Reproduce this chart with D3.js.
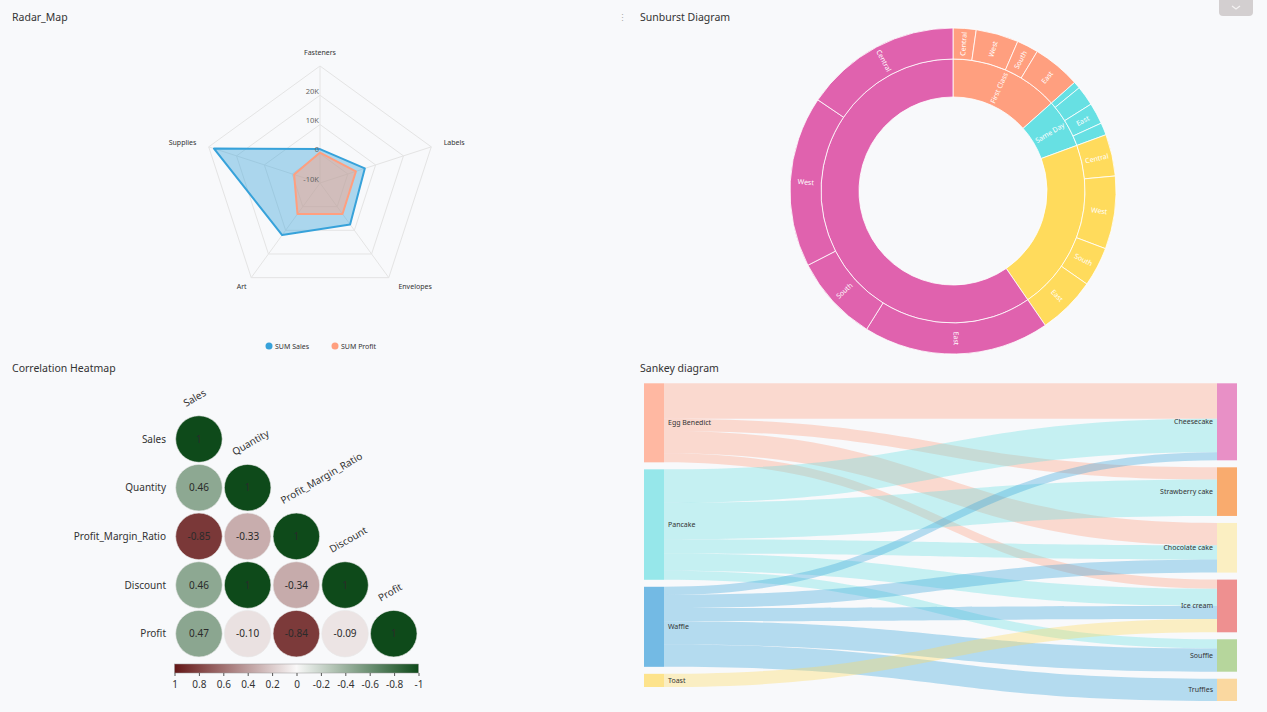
<!DOCTYPE html>
<html><head><meta charset="utf-8">
<script src="https://cdn.jsdelivr.net/npm/d3@7"></script>
<style>
html,body{margin:0;padding:0;background:#f8f9fb;}
svg{display:block;font-family:"Noto Sans","Open Sans",sans-serif;}
</style></head><body>
<svg id="c" width="1267" height="712"></svg>
<script>
// ================= DATA =================
const panelTitles = ["Radar_Map", "Sunburst Diagram", "Correlation Heatmap", "Sankey diagram"];

// Radar
const radarIndicators = ["Fasteners", "Labels", "Envelopes", "Art", "Supplies"];
const radarSales  = [1600, 6100, 7500, 12000, 28100];
const radarProfit = [400, 2900, 3100, 3100, -700];
const radarTicks  = [-10000, 0, 10000, 20000, 30000];
const radarSeriesNames = ["SUM Sales", "SUM Profit"];

// Sunburst (Ship Mode -> Region)
const sunModes = ["First Class", "Same Day", "Second Class", "Standard Class"];
const sunRegions = [
  ["Central", "West", "South", "East"],
  ["Central", "West", "East", "South"],
  ["Central", "West", "South", "East"],
  ["East", "South", "West", "Central"]
];
const sunValues = [
  [228, 422, 214, 475],
  [69, 197, 211, 122],
  [414, 722, 391, 575],
  [1846, 858, 1696, 1555]
];

// Correlation heatmap (lower triangle)
const corrVars = ["Sales", "Quantity", "Profit_Margin_Ratio", "Discount", "Profit"];
const corrValues = [
  [1],
  [0.46, 1],
  [-0.85, -0.33, 1],
  [0.46, 1, -0.34, 1],
  [0.47, -0.10, -0.84, -0.09, 1]
];
const corrLegendTicks = [1, 0.8, 0.6, 0.4, 0.2, 0, -0.2, -0.4, -0.6, -0.8, -1];

// Sankey
const sankeySources = ["Egg Benedict", "Pancake", "Waffle", "Toast"];
const sankeyTargets = ["Cheesecake", "Strawberry cake", "Chocolate cake", "Ice cream", "Souffle", "Truffles"];
const sankeyLinks = [
  ["Egg Benedict", "Cheesecake", 35],
  ["Egg Benedict", "Strawberry cake", 12],
  ["Egg Benedict", "Chocolate cake", 22],
  ["Egg Benedict", "Ice cream", 9],
  ["Pancake", "Cheesecake", 33],
  ["Pancake", "Strawberry cake", 36],
  ["Pancake", "Chocolate cake", 14],
  ["Pancake", "Ice cream", 17],
  ["Pancake", "Souffle", 9],
  ["Waffle", "Cheesecake", 8],
  ["Waffle", "Chocolate cake", 13],
  ["Waffle", "Ice cream", 13],
  ["Waffle", "Souffle", 23],
  ["Waffle", "Truffles", 22],
  ["Toast", "Ice cream", 13]
];

// ================= DRAW =================
const loc = d3.formatLocale({ decimal: ".", thousands: ",", grouping: [3], currency: ["$", ""], minus: "-" });
const svg = d3.select("#c");
svg.append("rect").attr("width", 1267).attr("height", 712).attr("fill", "#f8f9fb");

// titles
const titlePos = [[12, 21], [640, 21], [12, 372], [640, 372]];
panelTitles.forEach((t, i) => {
  svg.append("text").attr("x", titlePos[i][0]).attr("y", titlePos[i][1])
    .attr("font-size", 10.5).attr("fill", "#333").text(t);
});
svg.append("text").attr("x", 622).attr("y", 21).attr("font-size", 9).attr("fill", "#aaa")
  .attr("text-anchor", "middle").text("⋮");
// top-right button
svg.append("rect").attr("x", 1219).attr("y", -6).attr("width", 34).attr("height", 22).attr("rx", 4)
  .attr("fill", "#d3cfd0");
svg.append("path").attr("d", "M1232,6 L1236,9 L1240,6").attr("fill", "none")
  .attr("stroke", "#f4f2f2").attr("stroke-width", 1.2);

// ---------- Radar ----------
(function () {
  const cx = 320, cy = 183, R = 117;
  const r = d3.scaleLinear().domain([radarTicks[0], radarTicks[radarTicks.length - 1]]).range([0, R]);
  const n = radarIndicators.length;
  const ang = i => i * 2 * Math.PI / n;
  const pt = (i, rr) => [cx + rr * Math.sin(ang(i)), cy - rr * Math.cos(ang(i))];
  const g = svg.append("g");
  radarTicks.slice(1).forEach(t => {
    g.append("path")
      .attr("d", d3.line().curve(d3.curveLinearClosed)(d3.range(n).map(i => pt(i, r(t)))))
      .attr("fill", "none").attr("stroke", "#e4e4e4").attr("stroke-width", 1);
  });
  d3.range(n).forEach(i => {
    const p = pt(i, R);
    g.append("line").attr("x1", cx).attr("y1", cy).attr("x2", p[0]).attr("y2", p[1])
      .attr("stroke", "#e4e4e4");
  });
  const series = [
    { vals: radarSales, color: "#37a2da", op: 0.4 },
    { vals: radarProfit, color: "#ff9f7f", op: 0.45 }
  ];
  series.forEach(s => {
    g.append("path")
      .attr("d", d3.line().curve(d3.curveLinearClosed)(s.vals.map((v, i) => pt(i, r(v)))))
      .attr("fill", s.color).attr("fill-opacity", s.op)
      .attr("stroke", s.color).attr("stroke-width", 2).attr("stroke-linejoin", "round");
  });
  radarTicks.slice(0, 4).forEach(t => {
    g.append("text").attr("x", cx - 1).attr("y", cy - r(t) - 1.5)
      .attr("text-anchor", "end").attr("font-size", 7.5).attr("fill", "#666")
      .text(t === 0 ? "0" : (t / 1000) + "K");
  });
  radarIndicators.forEach((name, i) => {
    const a = ang(i), dx = Math.sin(a), dy = -Math.cos(a);
    let gap = 13, anchor = "middle";
    if (dx > 0.5) anchor = "start";
    else if (dx < -0.5) anchor = "end";
    else if (dy > 0) { anchor = dx > 0 ? "start" : "end"; gap = 9; }
    let p = pt(i, R + gap);
    let x = p[0], y = p[1] + 2.5;
    if (dy > 0.5) { x += dx > 0 ? 2 : 3; y = p[1] + 1; }
    if (dy < -0.9) y = p[1] + 2;
    g.append("text").attr("x", x).attr("y", y).attr("text-anchor", anchor)
      .attr("font-size", 7).attr("fill", "#333").text(name);
  });
  const lg = [[269, 346], [335, 346]];
  radarSeriesNames.forEach((nm, i) => {
    g.append("circle").attr("cx", lg[i][0]).attr("cy", lg[i][1]).attr("r", 3.5).attr("fill", series[i].color);
    g.append("text").attr("x", lg[i][0] + 6).attr("y", lg[i][1] + 2.5).attr("font-size", 7)
      .attr("fill", "#333").text(nm);
  });
})();

// ---------- Sunburst ----------
(function () {
  const cx = 953, cy = 191;
  const radii = { 1: [94, 132], 2: [132, 163] };
  const modeColors = ["#ff9f7f", "#67e0e3", "#ffdb5c", "#e062ae"];
  const data = {
    name: "root",
    children: sunModes.map((m, i) => ({
      name: m, idx: i,
      children: sunRegions[i].map((rg, j) => ({ name: rg, value: sunValues[i][j] }))
    }))
  };
  const root = d3.hierarchy(data).sum(d => d.value || 0);
  d3.partition().size([2 * Math.PI, 1])(root);
  const arc = d3.arc().startAngle(d => d.x0).endAngle(d => d.x1)
    .innerRadius(d => radii[d.depth][0]).outerRadius(d => radii[d.depth][1]);
  const g = svg.append("g").attr("transform", `translate(${cx},${cy})`);
  const nodes = root.descendants().filter(d => d.depth > 0);
  const top = d => d.depth === 1 ? d : d.parent;
  g.selectAll("path").data(nodes).join("path")
    .attr("d", arc).attr("fill", d => modeColors[top(d).data.idx])
    .attr("stroke", "#fff").attr("stroke-width", 0.8);
  nodes.forEach(d => {
    const th = (d.x0 + d.x1) / 2, deg = th * 180 / Math.PI;
    const rr = (radii[d.depth][0] + radii[d.depth][1]) / 2;
    const x = rr * Math.sin(th), y = -rr * Math.cos(th);
    const rot = deg < 180 ? deg - 90 : deg + 90;
    const t = g.append("text").attr("transform", `translate(${x},${y}) rotate(${rot})`)
      .attr("text-anchor", "middle").attr("dy", "0.35em")
      .attr("font-size", 7).attr("fill", "#fff").text(d.data.name);
    const w = t.node().getComputedTextLength();
    const ring = radii[d.depth][1] - radii[d.depth][0];
    if (w > ring - 3 || (d.x1 - d.x0) * 180 / Math.PI < 7.4) t.remove();
  });
})();

// ---------- Correlation heatmap ----------
(function () {
  const xs = d3.scaleBand().domain(corrVars).range([174.6, 418.1]);
  const ys = d3.scaleBand().domain(corrVars).range([414.7, 658]);
  const color = d3.scaleLinear().domain([-1, 0, 1]).range(["#641616", "#f9f8f8", "#0e4a1a"]);
  const g = svg.append("g");
  const bw = xs.bandwidth();
  const cells = [];
  corrValues.forEach((row, i) => row.forEach((v, j) => cells.push({ r: corrVars[i], c: corrVars[j], v })));
  g.selectAll("circle").data(cells).join("circle")
    .attr("cx", d => xs(d.c) + bw / 2).attr("cy", d => ys(d.r) + ys.bandwidth() / 2)
    .attr("r", bw * 0.478).attr("fill", d => color(d.v))
    .attr("stroke", "#e8e8e8").attr("stroke-width", 0.6);
  g.selectAll("text.v").data(cells).join("text").attr("class", "v")
    .attr("x", d => xs(d.c) + bw / 2).attr("y", d => ys(d.r) + ys.bandwidth() / 2 + 3.6)
    .attr("text-anchor", "middle").attr("font-size", 10).attr("fill", "#2b2b2b")
    .text(d => d.v === 1 ? "1" : loc.format(".2f")(d.v));
  corrVars.forEach(v => {
    g.append("text").attr("x", 166).attr("y", ys(v) + ys.bandwidth() / 2 + 3.6)
      .attr("text-anchor", "end").attr("font-size", 10).attr("fill", "#333").text(v);
  });
  corrVars.forEach(v => {
    const x = xs(v) + bw / 2 - 13, y = ys(v) + ys.bandwidth() / 2 - 32;
    g.append("text").attr("transform", `translate(${x},${y}) rotate(-30)`)
      .attr("font-size", 10).attr("fill", "#333").text(v);
  });
  const lx = d3.scaleLinear().domain([corrLegendTicks[0], corrLegendTicks[corrLegendTicks.length - 1]]).range([174.5, 418.5]);
  const defs = svg.append("defs");
  const grad = defs.append("linearGradient").attr("id", "cbar").attr("x1", "0%").attr("x2", "100%");
  d3.range(0, 1.0001, 0.05).forEach(t => {
    grad.append("stop").attr("offset", (t * 100) + "%").attr("stop-color", color(-1 + 2 * t));
  });
  g.append("rect").attr("x", 174.5).attr("y", 664).attr("width", 244).attr("height", 9)
    .attr("fill", "url(#cbar)").attr("stroke", "#999").attr("stroke-width", 0.5);
  const ax = g.append("g").attr("transform", "translate(0,673)")
    .call(d3.axisBottom(lx).tickValues(corrLegendTicks).tickSize(3)
      .tickFormat(d => Math.abs(d) < 1e-9 ? "0" : loc.format("")(+d.toFixed(1))));
  ax.select(".domain").remove();
  ax.selectAll("line").attr("stroke", "#555");
  ax.selectAll("text").attr("font-size", 10).attr("fill", "#333").attr("font-family", "Noto Sans").attr("dy", "0.9em");
})();

// ---------- Sankey ----------
(function () {
  const srcColor = { "Egg Benedict": "#ff9f7f", "Pancake": "#67e0e3", "Waffle": "#37a2da", "Toast": "#ffdb5c" };
  const nodeFill = {
    "Egg Benedict": "#ffb8a2", "Pancake": "#96e7ea", "Waffle": "#73bae4", "Toast": "#fde38c",
    "Cheesecake": "#e890c6", "Strawberry cake": "#f9ab6e", "Chocolate cake": "#fbefc2",
    "Ice cream": "#ee9090", "Souffle": "#b6d69c", "Truffles": "#fad8a0"
  };
  const top = 383.3, bottom = 701, pad = 7, nw = 20;
  const colX = d3.scaleLinear().domain([0, 1]).range([644, 1217]);
  const cols = [sankeySources, sankeyTargets];
  const links = sankeyLinks.map(([s, t, v]) => ({ s, t, v }));
  const nodeVal = {};
  links.forEach(l => { nodeVal[l.s] = (nodeVal[l.s] || 0) + l.v; nodeVal[l.t] = (nodeVal[l.t] || 0) + l.v; });
  const ky = d3.min(cols, c => (bottom - top - (c.length - 1) * pad) / d3.sum(c, n => nodeVal[n]));
  const h = d3.scaleLinear().domain([0, 1]).range([0, ky]);
  const nodes = {};
  cols.forEach((c, ci) => {
    let y = top;
    c.forEach(n => {
      nodes[n] = { name: n, col: ci, x0: colX(ci), x1: colX(ci) + nw, y0: y, y1: y + h(nodeVal[n]) };
      y = nodes[n].y1 + pad;
    });
  });
  sankeySources.forEach(sn => {
    let y = nodes[sn].y0;
    links.filter(l => l.s === sn).sort((a, b) => sankeyTargets.indexOf(a.t) - sankeyTargets.indexOf(b.t))
      .forEach(l => { l.sy0 = y; y += h(l.v); l.sy1 = y; });
  });
  sankeyTargets.forEach(tn => {
    let y = nodes[tn].y0;
    links.filter(l => l.t === tn).sort((a, b) => sankeySources.indexOf(a.s) - sankeySources.indexOf(b.s))
      .forEach(l => { l.ty0 = y; y += h(l.v); l.ty1 = y; });
  });
  const g = svg.append("g");
  const x0 = colX(0) + nw, x1 = colX(1), xm = (x0 + x1) / 2;
  links.forEach(l => {
    const p = d3.path();
    p.moveTo(x0, l.sy0);
    p.bezierCurveTo(xm, l.sy0, xm, l.ty0, x1, l.ty0);
    p.lineTo(x1, l.ty1);
    p.bezierCurveTo(xm, l.ty1, xm, l.sy1, x0, l.sy1);
    p.closePath();
    g.append("path").attr("d", p.toString()).attr("fill", srcColor[l.s]).attr("fill-opacity", 0.35);
  });
  Object.values(nodes).forEach(n => {
    g.append("rect").attr("x", n.x0).attr("y", n.y0).attr("width", nw).attr("height", n.y1 - n.y0)
      .attr("fill", nodeFill[n.name]);
    g.append("text")
      .attr("x", n.col === 0 ? n.x1 + 4 : n.x0 - 4).attr("y", (n.y0 + n.y1) / 2 + 2.5)
      .attr("text-anchor", n.col === 0 ? "start" : "end")
      .attr("font-size", 7).attr("fill", "#333").text(n.name);
  });
})();
</script>
</body></html>
